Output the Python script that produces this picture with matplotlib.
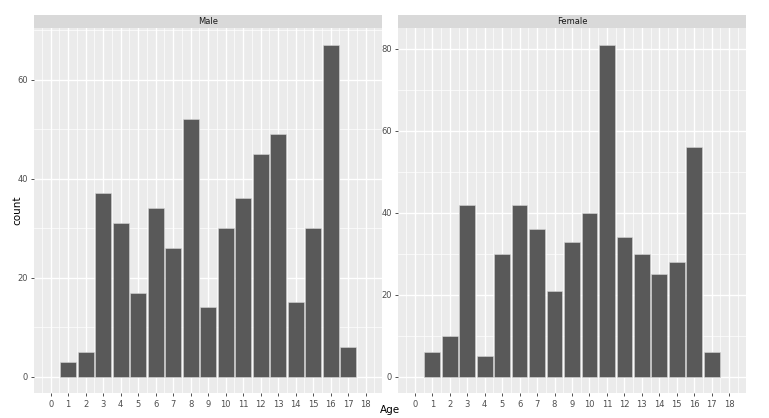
import matplotlib.pyplot as plt
import numpy as np

ages = list(range(1, 18))
male_counts = [3, 5, 37, 31, 17, 34, 26, 52, 14, 30, 36, 45, 49, 15, 30, 67, 6]
female_counts = [6, 10, 42, 5, 30, 42, 36, 21, 33, 40, 81, 34, 30, 25, 28, 56, 6]
panels = ["Male", "Female"]
x_ticks = list(range(0, 19))

BG = "#EBEBEB"
STRIP = "#D9D9D9"
BAR = "#595959"
TXT = "#4D4D4D"


def draw_panel(ax, counts, title, y_major):
    top = max(counts) * 1.05
    ax.set_facecolor(BG)
    ax.bar(ages, counts, width=0.9, color=BAR, edgecolor="#D6D6D6", linewidth=0.4, zorder=3)
    ax.set_xlim(-0.95, 18.95)
    ax.set_ylim(-max(counts) * 0.05, top)
    ax.set_xticks(x_ticks)
    ax.set_xticks(np.arange(-0.5, 19, 1.0), minor=True)
    ax.set_yticks(y_major)
    ax.set_yticks([v + 10 for v in y_major if v + 10 < top], minor=True)
    ax.grid(which="major", color="white", linewidth=1.0, zorder=1)
    ax.grid(which="minor", color="white", linewidth=0.5, zorder=1)
    ax.tick_params(which="major", length=2.5, width=0.6, color="#333333",
                   labelsize=6, labelcolor=TXT, pad=2)
    ax.tick_params(which="minor", length=0)
    for s in ax.spines.values():
        s.set_visible(False)
    # facet strip
    ax.text(0.5, 1.0 + 0.5 * 13 / 365, title, transform=ax.transAxes, ha="center", va="center",
            fontsize=6, color="#1A1A1A",
            bbox=None)
    strip = plt.Rectangle((0, 1.0), 1.0, 13.3 / 365, transform=ax.transAxes,
                          facecolor=STRIP, edgecolor="none", clip_on=False, zorder=0)
    ax.add_patch(strip)


fig = plt.figure(figsize=(7.69, 4.18), dpi=100)
W, H = 769, 418
ax1 = fig.add_axes([34 / W, (H - 393.3) / H, (382.3 - 34) / W, (393.3 - 28.3) / H])
ax2 = fig.add_axes([398.3 / W, (H - 393.3) / H, (745.7 - 398.3) / W, (393.3 - 28.3) / H])

draw_panel(ax1, male_counts, panels[0], [0, 20, 40, 60])
draw_panel(ax2, female_counts, panels[1], [0, 20, 40, 60, 80])

fig.text(390 / W, 1 - 410 / H, "Age", ha="center", va="center", fontsize=7.5, color="black")
fig.text(17 / W, 1 - 210 / H, "count", ha="center", va="center", rotation=90,
         fontsize=7.5, color="black")

fig.savefig("out.png", dpi=100)
